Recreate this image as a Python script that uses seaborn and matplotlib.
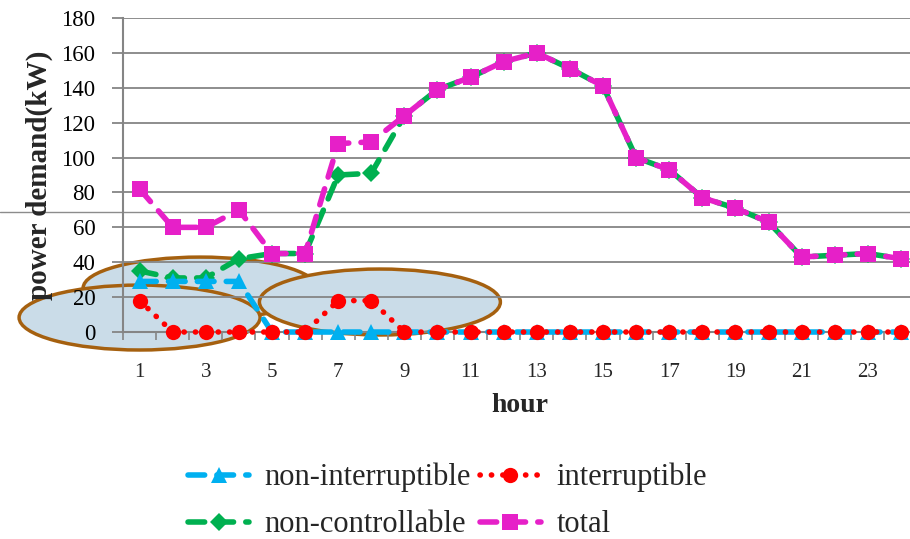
import numpy as np
import pandas as pd
import seaborn as sns
import matplotlib
matplotlib.use("Agg")
from matplotlib import pyplot as plt
from matplotlib.patches import Ellipse
from matplotlib.lines import Line2D

# hourly power demand (kW) per load type
hours = list(range(1, 25))
non_interruptible = [29, 29, 29, 29, 0, 0, 0, 0, 0, 0, 0, 0,
                     0, 0, 0, 0, 0, 0, 0, 0, 0, 0, 0, 0]
interruptible = [18, 0, 0, 0, 0, 0, 18, 18, 0, 0, 0, 0,
                 0, 0, 0, 0, 0, 0, 0, 0, 0, 0, 0, 0]
non_controllable = [35, 31, 31, 42, 45, 45, 90, 91, 124, 139, 146, 155,
                    160, 151, 141, 100, 93, 77, 71, 63, 43, 44, 45, 42]
total = [82, 60, 60, 70, 45, 45, 108, 109, 124, 139, 146, 155,
         160, 151, 141, 100, 93, 77, 71, 63, 43, 44, 45, 42]

df = pd.DataFrame({"hour": hours,
                   "non-interruptible": non_interruptible,
                   "interruptible": interruptible,
                   "non-controllable": non_controllable,
                   "total": total})

sns.set_style("white")
plt.rcParams["font.family"] = ["Liberation Serif", "DejaVu Serif"]

fig = plt.figure(figsize=(9.1, 5.39), dpi=100)
ax = fig.add_axes([0.1352, 0.384, 0.873, 0.5826])
ax.patch.set_alpha(0)

# stray horizontal rule across the whole figure
fig.add_artist(Line2D([0, 1], [0.6067, 0.6067], color="#8c8c8c", lw=1.0, zorder=-1))

# highlight ellipses (middle first, then left, then right)
ell_style = dict(facecolor="#cadce8", edgecolor="#a5600f", lw=2.5, clip_on=False)
ax.add_patch(Ellipse((2.83, 25.2), 7.07, 35.5, zorder=0.1, **ell_style))
ax.add_patch(Ellipse((1.0, 8.3), 7.28, 37.2, zorder=0.15, **ell_style))
ax.add_patch(Ellipse((8.26, 17.2), 7.28, 37.8, zorder=0.2, **ell_style))

common = dict(lw=4, dash_capstyle="round", markeredgewidth=0, zorder=3, clip_on=False)
sns.lineplot(data=df, x="hour", y="non-controllable", ax=ax, color="#00b050",
             marker="D", markersize=9, markerfacecolor="#00b050",
             linestyle=(0, (3, 2.2)), label="non-controllable", **common)
h_nc = ax.lines[-1]
sns.lineplot(data=df, x="hour", y="non-interruptible", ax=ax, color="#00b0f0",
             marker="^", markersize=11, markerfacecolor="#00b0f0",
             linestyle=(0, (3, 2.2)), label="non-interruptible", **common)
h_ni = ax.lines[-1]
sns.lineplot(data=df, x="hour", y="interruptible", ax=ax, color="#ff0000",
             marker="o", markersize=11, markerfacecolor="#ff0000",
             linestyle=(0, (0.05, 2.0)), label="interruptible", **common)
h_i = ax.lines[-1]
sns.lineplot(data=df, x="hour", y="total", ax=ax, color="#e620c8",
             marker="s", markersize=11, markerfacecolor="#e620c8",
             linestyle=(0, (3, 2.2)), label="total", **common)
h_t = ax.lines[-1]

ax.set_xlim(0.5, 24.5)
ax.set_ylim(0, 180)
ax.set_yticks(np.arange(0, 181, 20))
ax.set_xticks(range(1, 25, 2))
ax.set_xticks(np.arange(0.5, 24.6, 1), minor=True)

ax.yaxis.grid(True, color="#858585", lw=1.3)
ax.set_axisbelow(True)
ax.yaxis.set_zorder(0.5)
for s in ["top", "right"]:
    ax.spines[s].set_visible(False)
ax.spines["left"].set_color("#858585")
ax.spines["left"].set_linewidth(1.5)
ax.spines["bottom"].set_color("#858585")
ax.spines["bottom"].set_linewidth(1.5)

ax.tick_params(axis="y", length=8, width=1.3, color="#858585", pad=12,
               labelsize=16.5, labelcolor="black", left=True)
ax.tick_params(axis="x", which="major", length=0, pad=22, labelsize=15)
ax.tick_params(axis="x", which="minor", length=6, width=1.2, color="#858585", bottom=True)

ax.set_xlabel("hour", fontsize=20, fontweight="bold", labelpad=8)
ax.set_ylabel("power demand(kW)", fontsize=21, fontweight="bold", labelpad=6)

leg = ax.legend(handles=[h_ni, h_nc, h_i, h_t],
                labels=["non-interruptible", "non-controllable", "interruptible", "total"],
                ncol=2, loc="upper left", bbox_to_anchor=(188 / 910, 1 - 463 / 539),
                bbox_transform=fig.transFigure, borderpad=0, borderaxespad=0,
                frameon=False, fontsize=22, numpoints=1, handlelength=2.0,
                handletextpad=0.5, columnspacing=0.3, labelspacing=0.58)

fig.savefig("out.png", dpi=100)
